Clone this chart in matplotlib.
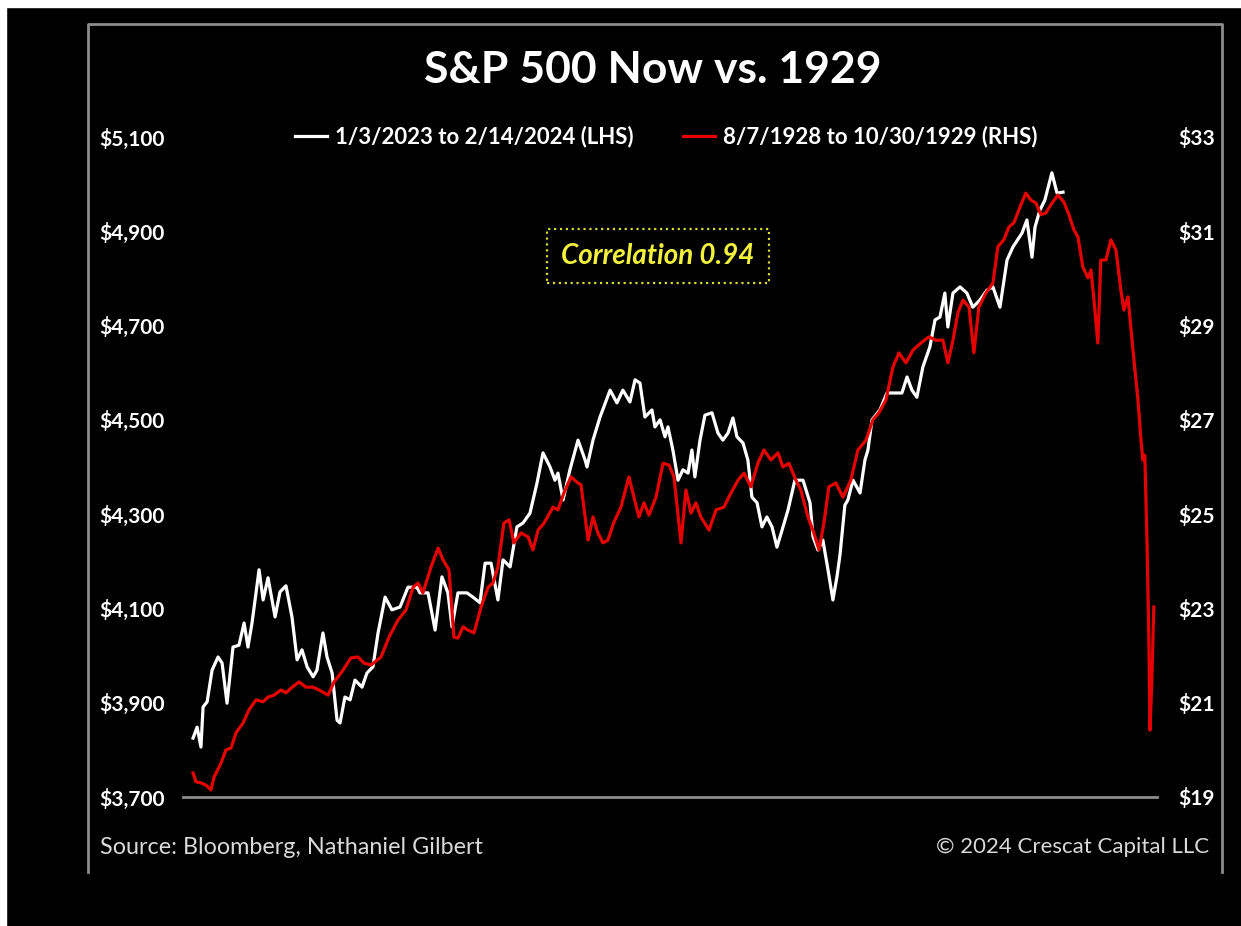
import matplotlib
matplotlib.use("Agg")
import matplotlib.pyplot as plt
from matplotlib.lines import Line2D
from matplotlib.patches import Rectangle

plt.rcParams['font.family'] = ['Lato', 'DejaVu Sans']

# calendar days since start of each window
white_days = [0, 1.9, 3.7, 4.7, 6.6, 8.9, 11.7, 13.6, 15.9, 18.7, 21.5, 23.9, 25.7, 27.6,
              30.9, 32.8, 35.1, 38.4, 40.7, 43.5, 46.3, 48.7, 51.0, 53.4, 56.2, 58.0,
              60.8, 62.7, 65.1, 67.4, 68.8, 71.1, 73.5, 75.8, 79.1, 81.4, 84.2, 86.6,
              89.9, 93.1, 96.9, 100.6, 104.8, 106.2, 110.0, 113.3, 116.5, 119.3, 121.2,
              124.0, 128.2, 131.0, 134.3, 136.7, 139.5, 142.7, 145.1, 148.4, 151.6,
              154.4, 157.7, 161.0, 163.8, 167.1, 169.4, 170.8, 173.2, 176.4, 180.2,
              183.5, 184.4, 187.2, 190.5, 195.2, 198.4, 201.2, 204.5, 206.9, 209.2,
              211.5, 214.8, 216.2, 218.6, 220.9, 222.3, 224.6, 227.0, 229.3, 231.7,
              233.5, 234.9, 237.3, 239.6, 242.9, 245.7, 248.0, 250.4, 252.7, 254.6,
              257.4, 259.7, 261.6, 264.0, 266.3, 268.6, 271.0, 273.3, 275.7, 278.5,
              281.7, 285.5, 288.8, 290.2, 292.5, 294.8, 297.2, 299.5, 301.4, 302.8,
              305.1, 306.5, 308.9, 312.2, 314.5, 315.9, 317.8, 321.5, 324.8, 328.5,
              331.8, 334.2, 336.5, 338.8, 341.6, 344.9, 347.3, 349.6, 351.9, 353.3,
              355.7, 359.0, 362.2, 365.0, 368.3, 371.6, 374.4, 377.7, 381.0, 383.8,
              388.0, 390.3, 392.7, 394.1, 396.4, 398.7, 402.0, 404.4, 407.2]
white_vals = [3825, 3848, 3806, 3891, 3902, 3969, 3997, 3984, 3899, 4018, 4022, 4069, 4018, 4069,
              4182, 4118, 4165, 4082, 4135, 4148, 4082, 3991, 4012, 3976, 3955, 3969,
              4048, 3997, 3963, 3863, 3857, 3912, 3906, 3948, 3933, 3963, 3976, 4048,
              4124, 4097, 4103, 4145, 4145, 4133, 4133, 4054, 4167, 4133, 4061,
              4133, 4133, 4124, 4112, 4196, 4196, 4118, 4203, 4188, 4273,
              4281, 4302, 4366, 4430, 4400, 4372, 4387, 4330, 4394, 4457,
              4415, 4400, 4457, 4506, 4563, 4536, 4563, 4538, 4585, 4578,
              4506, 4521, 4485, 4500, 4464, 4485, 4436, 4372, 4394, 4387,
              4436, 4379, 4457, 4510, 4515, 4472, 4457, 4472, 4504, 4464,
              4451, 4415, 4336, 4324, 4273, 4294, 4273, 4230, 4266, 4309,
              4372, 4372, 4324, 4252, 4224, 4245, 4182, 4118, 4167, 4213,
              4319, 4330, 4372, 4345, 4415, 4436, 4500, 4521, 4557, 4557,
              4557, 4591, 4563, 4548, 4612, 4655, 4712, 4718, 4769, 4697,
              4769, 4782, 4769, 4739, 4754, 4775, 4782, 4739, 4839, 4867,
              4896, 4924, 4845, 4909, 4945, 4966, 5024, 4981, 4983]

red_days = [0, 1.4, 3.7, 6.1, 8.4, 9.8, 13.1, 15.4, 17.8, 20.1, 23.4, 26.2, 29.5, 32.8,
            35.1, 37.9, 41.2, 43.5, 45.9, 49.6, 52.9, 56.2, 59.0, 63.2, 66.0, 70.2,
            73.9, 77.2, 80.0, 83.3, 88.0, 91.7, 95.9, 99.7, 103.0, 105.3, 107.6,
            111.4, 114.7, 117.0, 119.8, 122.1, 124.0, 126.4, 128.7, 131.5, 134.8,
            138.1, 140.4, 142.7, 145.5, 147.9, 150.2, 153.5, 156.8, 159.1, 161.5,
            164.3, 168.5, 170.8, 173.6, 176.9, 180.2, 181.6, 184.9, 187.2, 189.5,
            191.9, 194.2, 197.0, 200.3, 204.0, 206.4, 208.7, 211.1, 213.4, 216.7,
            220.0, 222.8, 225.1, 228.4, 230.7, 233.1, 235.4, 237.7, 241.5, 244.8,
            248.5, 251.8, 255.1, 257.9, 261.1, 264.4, 267.2, 270.5, 273.8, 276.1,
            278.9, 282.2, 284.5, 287.8, 290.6, 293.0, 295.3, 297.6, 300.9, 304.2,
            307.9, 311.2, 315.0, 318.2, 321.0, 324.3, 327.6, 330.4, 333.7, 337.0,
            340.7, 344.4, 347.7, 351.0, 353.3, 355.7, 358.0, 360.4, 363.2, 365.5,
            367.8, 371.1, 374.4, 376.7, 379.5, 381.9, 384.2, 387.5, 389.8, 392.2,
            394.5, 396.9, 399.2, 401.5, 404.8, 407.6, 410.0, 412.3, 414.2, 416.5,
            418.9, 420.3, 421.7, 423.5, 424.9, 427.3, 429.6, 432.0, 434.3, 435.7,
            437.6, 440.4, 442.3, 443.7, 444.6, 445.5, 446.5, 447.4, 447.9, 448.8, 449.7]
red_vals = [19.51, 19.32, 19.30, 19.25, 19.15, 19.42, 19.72, 20.00, 20.04, 20.36, 20.57, 20.85, 21.06, 21.02,
            21.12, 21.16, 21.27, 21.21, 21.31, 21.44, 21.33, 21.33, 21.27, 21.16, 21.44, 21.69,
            21.95, 21.97, 21.84, 21.80, 21.97, 22.39, 22.75, 22.97, 23.45, 23.54, 23.33,
            23.88, 24.28, 24.03, 23.82, 22.39, 22.37, 22.61, 22.54, 22.48, 23.03,
            23.45, 23.54, 23.88, 24.81, 24.88, 24.39, 24.60, 24.52, 24.24, 24.66,
            24.81, 25.15, 25.09, 25.45, 25.79, 25.66, 25.62, 24.45, 24.94, 24.60,
            24.39, 24.45, 24.83, 25.15, 25.79, 25.36, 24.94, 25.24, 24.98, 25.36,
            26.08, 26.04, 25.79, 24.39, 25.51, 25.02, 25.24, 24.94, 24.66, 25.09,
            25.15, 25.45, 25.72, 25.87, 25.58, 26.08, 26.36, 26.15, 26.30, 26.00,
            26.08, 25.72, 25.51, 24.94, 24.60, 24.24, 24.81, 25.58, 25.66, 25.36,
            25.72, 26.36, 26.57, 27.00, 27.15, 27.42, 28.12, 28.42, 28.21, 28.48,
            28.63, 28.76, 28.69, 28.69, 28.21, 28.69, 29.27, 29.54, 29.39, 28.42,
            29.39, 29.69, 29.90, 30.67, 30.82, 31.09, 31.18, 31.56, 31.81, 31.66,
            31.60, 31.35, 31.39, 31.56, 31.77, 31.62, 31.35, 31.03, 30.88, 30.24,
            30.01, 30.18, 29.54, 28.63, 30.39, 30.39, 30.82, 30.60, 29.75, 29.33,
            29.61, 28.27, 27.42, 26.57, 26.15, 26.25, 24.45, 22.33, 20.42, 21.48, 23.03]

left_ticks = [3700, 3900, 4100, 4300, 4500, 4700, 4900, 5100]
right_ticks = [19, 21, 23, 25, 27, 29, 31, 33]

title = "S&P 500 Now vs. 1929"
white_label = "1/3/2023 to 2/14/2024 (LHS)"
red_label = "8/7/1928 to 10/30/1929 (RHS)"
corr_text = "Correlation 0.94"
source_text = "Source: Bloomberg, Nathaniel Gilbert"
copy_text = "\u00a9 2024 Crescat Capital LLC"

W, H = 1241, 926
fig = plt.figure(figsize=(W / 100, H / 100), dpi=100, facecolor='black')

# thin white strips along the top and left edge of the screenshot
fig.add_artist(Rectangle((0, 1 - 7 / H), 1, 7 / H, transform=fig.transFigure, color='white', zorder=0))
fig.add_artist(Rectangle((0, 0), 6 / W, 1, transform=fig.transFigure, color='white', zorder=0))

# gray outer frame (left, top, right)
fx0, fx1 = 88 / W, 1222 / W
fy0, fy1 = 1 - 872 / H, 1 - 24 / H
fig.add_artist(Line2D([fx0, fx0, fx1, fx1], [fy0, fy1, fy1, fy0], transform=fig.transFigure,
                      color='#8c8c8c', lw=2))

ax = fig.add_axes([183 / W, 1 - 797 / H, (1157 - 183) / W, (797 - 137) / H])
ax.set_facecolor('black')
ax2 = ax.twinx()

lw, = ax.plot(white_days, white_vals, color='white', lw=2.3, label=white_label)
lr, = ax2.plot(red_days, red_vals, color='#e60000', lw=2.3, label=red_label)

ax.set_xlim(-4.7, 451.2)
ax.set_ylim(3700, 5100)
ax2.set_ylim(19, 33)
ax.set_xticks([])
ax.set_yticks(left_ticks)
ax.set_yticklabels([f"${v:,}" for v in left_ticks])
ax2.set_yticks(right_ticks)
ax2.set_yticklabels([f"${v}" for v in right_ticks])

for s in ['top', 'left', 'right']:
    ax.spines[s].set_visible(False)
    ax2.spines[s].set_visible(False)
ax2.spines['bottom'].set_visible(False)
ax.spines['bottom'].set_color('#8c8c8c')
ax.spines['bottom'].set_linewidth(2)

ax.tick_params(axis='y', length=0, pad=13, labelcolor='white', labelsize=15)
ax2.tick_params(axis='y', length=0, pad=15, labelcolor='white', labelsize=15)
for t in ax.get_yticklabels() + ax2.get_yticklabels():
    t.set_fontweight('bold')

fig.text(653 / W, 1 - 70 / H, title, color='white', fontsize=32, fontweight='bold',
         ha='center', va='center')

leg = fig.legend(handles=[lw, lr], loc='center', bbox_to_anchor=(666 / W, 1 - 137 / H),
                 ncol=2, frameon=False, handlelength=1.45, handletextpad=0.36,
                 columnspacing=2.2, prop={'size': 16, 'weight': 'bold'})
for t in leg.get_texts():
    t.set_color('white')

fig.text(658 / W, 1 - 256 / H, corr_text, color='#f2f23c', fontsize=20, fontweight='bold',
         style='italic', ha='center', va='center',
         bbox=dict(boxstyle='square,pad=0.5', fc='black', ec='#d8d830', ls=':', lw=1.6))

fig.text(100 / W, 1 - 847 / H, source_text, color='#d9d9d9', fontsize=16.8, ha='left', va='center')
fig.text(1209 / W, 1 - 847 / H, copy_text, color='#d9d9d9', fontsize=16, ha='right', va='center')

fig.savefig('out.png', dpi=100, facecolor='black')
